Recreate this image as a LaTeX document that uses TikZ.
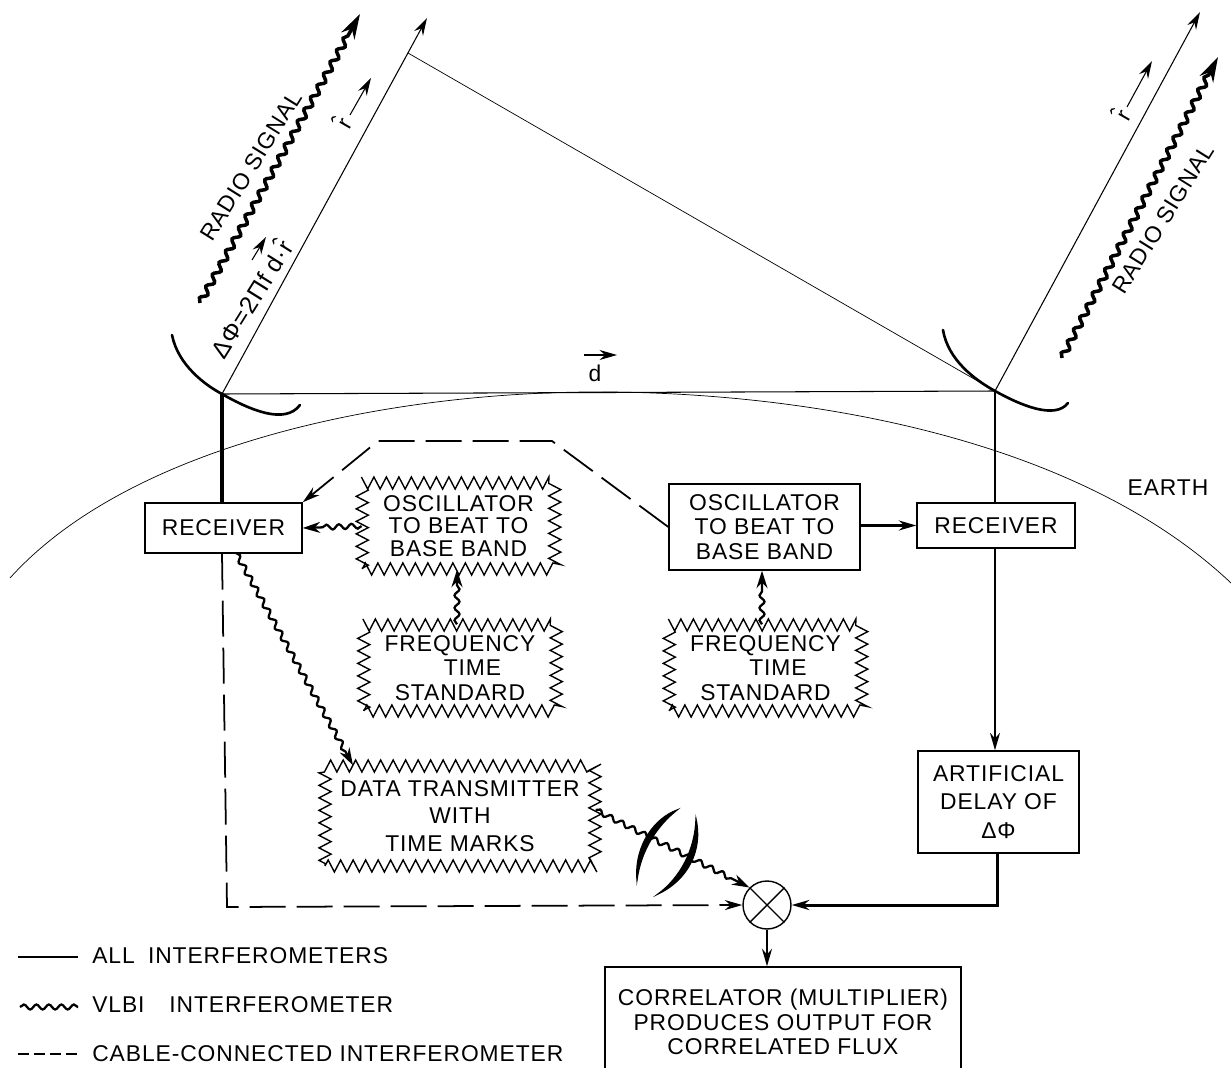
\documentclass[tikz,border=0pt]{standalone}
\usepackage{fontspec}
\setmainfont{Liberation Sans}[LetterSpace=4]
\usepackage{tikz}
\usetikzlibrary{
  arrows.meta,
  positioning,
  decorations.pathmorphing
}
\begin{document}
\begin{tikzpicture}[
  x=0.02cm, y=-0.02cm,
  lbl/.style={font=\fontsize{13}{14}\selectfont, align=center, inner sep=0pt},
  box/.style={lbl, draw, line width=0.8pt, minimum width=#1},
  zig/.style={lbl, draw, line width=0.8pt, minimum width=#1, decorate,
    decoration={zigzag, segment length=0.25cm, amplitude=0.12cm}},
  wav/.style={line width=1.3pt, decorate, -{Stealth[length=3.5mm,width=2.2mm]},
    decoration={snake, segment length=0.25cm, amplitude=0.05cm, post length=3mm}},
  radio/.style={line width=2pt, decorate, -{Stealth[length=5mm,width=3mm]},
    decoration={snake, segment length=0.27cm, amplitude=0.06cm, post length=4mm}},
  dsh/.style={line width=1pt, dash pattern=on 0.72cm off 0.22cm},
  arr/.style={-{Stealth[length=3.5mm,width=2mm]}},
  dish/.style={line width=1.5pt, line cap=round}
]
  \clip (0,0) rectangle (1231,1068);
  % --- earth ---
  \draw[line width=0.4pt] (10,578) .. controls (130,445) and (390,390) .. (610,392)
    .. controls (830,394) and (1085,445) .. (1231,583);
  \node[lbl] (earth) at (1168,488) {EARTH};
  % --- antennas ---
  \coordinate (feedL) at (222,394);
  \coordinate (feedR) at (995,391);
  \coordinate (tipL) at (427,18);
  \coordinate (tipR) at (1200,12);
  \coordinate (wave) at (408,53);
  \draw[dish] (172,335) .. controls (178,365) and (205,385) .. (feedL)
    .. controls (250,410) and (285,425) .. (300,405);
  \draw[dish] (943,330) .. controls (948,360) and (975,380) .. (feedR)
    .. controls (1020,405) and (1055,420) .. (1068,403);
  \draw[arr, line width=0.6pt] (feedL) -- (tipL);
  \draw[arr, line width=0.6pt] (feedR) -- (tipR);
  \draw[line width=0.4pt] (wave) -- (feedR);
  \draw[line width=0.6pt] (feedL) -- (feedR);
  % radio signals
  \coordinate (sigLa) at (200,303);
  \coordinate (sigLb) at (360,14);
  \coordinate (sigRa) at (1062,358);
  \coordinate (sigRb) at (1218,57);
  \draw[radio] (sigLa) -- (sigLb);
  \draw[radio] (sigRa) -- (sigRb);
  \node[lbl, rotate=58] (radioL) at (251,166) {RADIO SIGNAL};
  \node[lbl, rotate=58] (radioR) at (1163,219) {RADIO SIGNAL};
  % unit vectors
  \coordinate (rLa) at (350,115);
  \coordinate (rLb) at (371,78);
  \coordinate (rRa) at (1127,107);
  \coordinate (rRb) at (1152,61);
  \draw[arr, line width=0.6pt] (rLa) -- (rLb);
  \draw[arr, line width=0.6pt] (rRa) -- (rRb);
  \node[lbl, rotate=60] (rhatL) at (342,122) {\^r};
  \node[lbl, rotate=60] (rhatR) at (1121,114) {\^r};
  \node[lbl, rotate=58, font=\fontsize{14}{14}\selectfont] (phase) at (250,298) {ΔΦ=2Πf d·\^r};
  \coordinate (dpa) at (252,260);
  \coordinate (dpb) at (266,237);
  \draw[arr, line width=0.6pt] (dpa) -- (dpb);
  \coordinate (dba) at (584,355);
  \coordinate (dbb) at (617,355);
  \draw[arr, line width=0.6pt] (dba) -- (dbb);
  \node[lbl] (dbase) at (595,373) {d};
  % --- left station ---
  \node[box=3.14cm, minimum height=1cm] (rcvL) at (223.5,528) {RECEIVER};
  \node[zig=3.85cm, minimum height=1.72cm, font=\fontsize{13}{13}\selectfont] (oscL) at (458.5,526) {OSCILLATOR\\TO BEAT TO\\BASE BAND};
  \node[zig=3.85cm, minimum height=1.72cm] (frqL) at (460,668) {FREQUENCY\\\hspace*{0.5cm}TIME\\STANDARD};
  \node[zig=5.4cm, minimum height=2cm] (data) at (460,816) {DATA TRANSMITTER\\[1.5pt]WITH\\[1.5pt]TIME MARKS};
  % --- right station ---
  \node[box=3.82cm, minimum height=1.72cm] (oscR) at (764.5,527) {OSCILLATOR\\TO BEAT TO\\BASE BAND};
  \node[box=3.16cm, minimum height=0.9cm] (rcvR) at (996,525.5) {RECEIVER};
  \node[zig=3.85cm, minimum height=1.72cm] (frqR) at (765.5,668) {FREQUENCY\\\hspace*{0.5cm}TIME\\STANDARD};
  \node[box=3.22cm, minimum height=2.04cm] (delay) at (998.5,802) {ARTIFICIAL\\[2pt]DELAY OF\\[2pt]ΔΦ};
  % --- correlator ---
  \node[draw, circle, line width=0.8pt, minimum size=0.96cm, inner sep=0pt] (mult) at (767,905) {};
  \draw[line width=0.8pt] (mult.north west) -- (mult.south east);
  \draw[line width=0.8pt] (mult.north east) -- (mult.south west);
  \node[box=7.12cm, minimum height=2.2cm] (corr) at (783,1022) {CORRELATOR (MULTIPLIER)\\PRODUCES OUTPUT FOR\\CORRELATED FLUX};
  % --- connectors ---
  \draw[line width=2pt] (feedL) -- (feedL |- rcvL.north);
  \draw[line width=1.5pt] (feedR) -- (feedR |- rcvR.north);
  \draw[arr, line width=1.2pt] (feedR |- rcvR.south) -- (feedR |- delay.north);
  \draw[arr, line width=1.5pt] (oscR.east |- rcvR) -- (rcvR.west);
  \draw[arr, line width=1.7pt] (delay.south -| 997,0) -- (997,905) -- (mult.east);
  \draw[arr, line width=1.3pt] (mult.south) -- (corr.north -| mult);
  \coordinate (cabL) at (227,907);
  \draw[dsh, arr] (feedL |- rcvL.south) -- (cabL) -- (mult.west);
  \coordinate (cabA) at (552,441);
  \coordinate (cabB) at (378,441);
  \draw[dsh, arr] (oscR.west) -- (cabA) -- (cabB) -- (rcvL.north east);
  \draw[wav] (oscL.west) -- (rcvL.east);
  \draw[wav] (frqL.north -| 457,0) -- (oscL.south -| 457,0);
  \draw[wav] (frqR.north -| 762,0) -- (oscR.south -| 762,0);
  \draw[wav] (236,553) -- (data.north -| 353,0);
  \draw[wav] (data.east |- 0,810) -- (mult.north west);
  % relay dishes
  \filldraw[line width=0.7pt] (677,810) .. controls (655,818) and (634,845) .. (637,880)
    .. controls (641,850) and (657,826) .. cycle;
  \filldraw[line width=0.7pt] (696,819) .. controls (703,850) and (688,880) .. (658,894)
    .. controls (680,878) and (695,850) .. cycle;
  % --- legend ---
  \coordinate (keyAa) at (18,957);
  \coordinate (keyAb) at (78,957);
  \coordinate (keyBa) at (20,1007);
  \coordinate (keyBb) at (78,1007);
  \coordinate (keyCa) at (18,1054);
  \coordinate (keyCb) at (78,1054);
  \draw[line width=0.6pt] (keyAa) -- (keyAb);
  \draw[line width=1.3pt, decorate, decoration={snake, segment length=0.25cm, amplitude=0.05cm}] (keyBa) -- (keyBb);
  \draw[line width=0.8pt, dash pattern=on 0.22cm off 0.1cm] (keyCa) -- (keyCb);
  \node[lbl, anchor=west] (keyA) at (92,956) {ALL\hspace{0.12cm} INTERFEROMETERS};
  \node[lbl, anchor=west] (keyB) at (92,1005) {VLBI\hspace{0.35cm} INTERFEROMETER};
  \node[lbl, anchor=west] (keyC) at (92,1054) {CABLE-CONNECTED INTERFEROMETER};
\end{tikzpicture}
\end{document}
